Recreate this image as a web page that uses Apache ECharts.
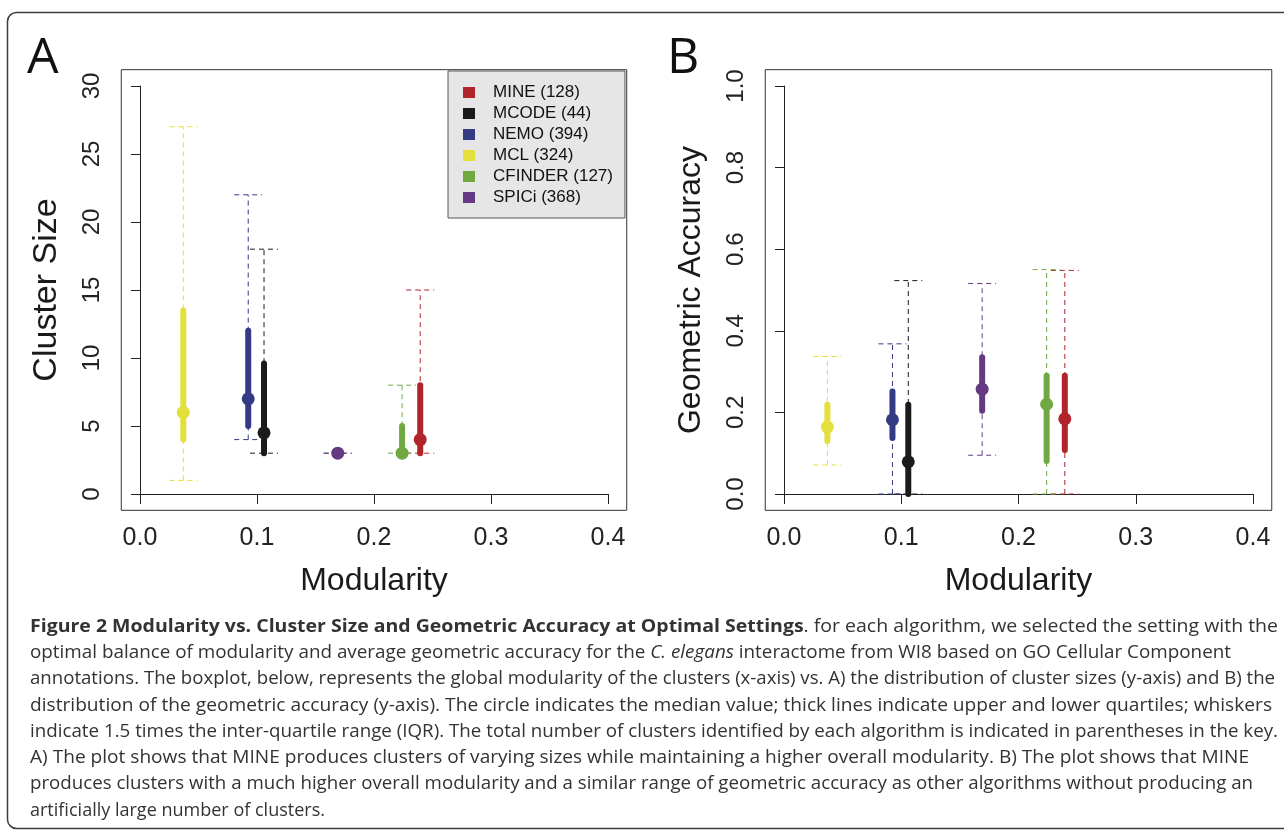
<!DOCTYPE html>
<html>
<head>
<meta charset="utf-8">
<script src="https://cdn.jsdelivr.net/npm/echarts@6/dist/echarts.min.js"></script>
<style>
  html, body { margin: 0; padding: 0; background: #fff; }
  #main { width: 1284px; height: 832px; }
</style>
</head>
<body>
<div id="main"></div>
<script>
// algorithm names as in the key, with cluster counts
const algorithms = ['MINE (128)', 'MCODE (44)', 'NEMO (394)', 'MCL (324)', 'CFINDER (127)', 'SPICi (368)'];
const colors = ['#b0242a', '#1b1b1b', '#343a84', '#e4df3b', '#70a941', '#663a83'];
// global modularity of each algorithm (x position)
const modularity = [0.2395, 0.106, 0.0925, 0.037, 0.224, 0.169];
// [low whisker, q1, median, q3, high whisker]
const clusterSize = [
  [3, 3, 4, 8, 15],
  [3, 3, 4.5, 9.6, 18],
  [4, 5, 7, 12, 22],
  [1, 4, 6, 13.5, 27],
  [3, 3, 3, 5, 8],
  [3, 3, 3, 3, 3]
];
const geoAccuracy = [
  [0, 0.108, 0.184, 0.29, 0.548],
  [0, 0, 0.079, 0.219, 0.523],
  [0, 0.137, 0.182, 0.251, 0.368],
  [0.071, 0.130, 0.164, 0.219, 0.337],
  [0, 0.081, 0.22, 0.29, 0.55],
  [0.095, 0.204, 0.257, 0.335, 0.516]
];
const xTickLabels = ['0.0', '0.1', '0.2', '0.3', '0.4'];
const yTickLabelsA = ['0', '5', '10', '15', '20', '25', '30'];
const yTickLabelsB = ['0.0', '0.2', '0.4', '0.6', '0.8', '1.0'];

// caption, one entry per printed line: [style, text] pieces
const captionLines = [
  [['b', 'Figure 2 Modularity vs. Cluster Size and Geometric Accuracy at Optimal Settings'], ['n', '. for each algorithm, we selected the setting with the']],
  [['n', 'optimal balance of modularity and average geometric accuracy for the '], ['i', 'C. elegans'], ['n', ' interactome from WI8 based on GO Cellular Component']],
  [['n', 'annotations. The boxplot, below, represents the global modularity of the clusters (x-axis) vs. A) the distribution of cluster sizes (y-axis) and B) the']],
  [['n', 'distribution of the geometric accuracy (y-axis). The circle indicates the median value; thick lines indicate upper and lower quartiles; whiskers']],
  [['n', 'indicate 1.5 times the inter-quartile range (IQR). The total number of clusters identified by each algorithm is indicated in parentheses in the key.']],
  [['n', 'A) The plot shows that MINE produces clusters of varying sizes while maintaining a higher overall modularity. B) The plot shows that MINE']],
  [['n', 'produces clusters with a much higher overall modularity and a similar range of geometric accuracy as other algorithms without producing an']],
  [['n', 'artificially large number of clusters.']]
];
// right end of each caption line in the reference
const captionEnds = [1278, 1231, 1275, 1272, 1278, 1249, 1253, 325];

const axisFont = '"Liberation Sans", Arial, sans-serif';
const capFont = '"Liberation Sans Narrow", "Open Sans", sans-serif';

const chart = echarts.init(document.getElementById('main'));

function renderBox(params, api) {
  const x = api.value(0);
  const p = [1, 2, 3, 4, 5].map(i => api.coord([x, api.value(i)]));
  const color = api.visual('color');
  const cx = p[0][0];
  const dash = { stroke: color, lineWidth: 1, lineDash: [5, 4] };
  return {
    type: 'group',
    children: [
      { type: 'line', shape: { x1: cx, y1: p[0][1], x2: cx, y2: p[4][1] }, style: dash },
      { type: 'line', shape: { x1: cx - 14, y1: p[0][1], x2: cx + 14, y2: p[0][1] }, style: dash },
      { type: 'line', shape: { x1: cx - 14, y1: p[4][1], x2: cx + 14, y2: p[4][1] }, style: dash },
      { type: 'line', shape: { x1: cx, y1: p[1][1], x2: cx, y2: p[3][1] },
        style: { stroke: color, lineWidth: 6, lineCap: 'round' } },
      { type: 'circle', shape: { cx: cx, cy: p[2][1], r: 6.5 }, style: { fill: color } }
    ]
  };
}

function makeXAxis(gridIndex) {
  return {
    gridIndex, type: 'value', min: 0, max: 0.4, interval: 0.1, offset: 16.3,
    axisLine: { show: true, lineStyle: { color: '#222' } },
    axisTick: { show: true, length: 10, lineStyle: { color: '#222' } },
    axisLabel: { formatter: (v, i) => xTickLabels[i], fontSize: 25, color: '#222', fontFamily: axisFont, margin: 15 },
    splitLine: { show: false },
    name: 'Modularity', nameLocation: 'middle', nameGap: 55,
    nameTextStyle: { fontSize: 32, color: '#1a1a1a', fontFamily: axisFont }
  };
}

function makeYAxis(gridIndex, max, interval, labels, name, nameSize) {
  return {
    gridIndex, type: 'value', min: 0, max, interval, offset: 18.7,
    axisLine: { show: true, lineStyle: { color: '#222' } },
    axisTick: { show: true, length: 9, lineStyle: { color: '#222' } },
    axisLabel: { formatter: (v, i) => labels[i], rotate: 90, fontSize: 24, color: '#222', fontFamily: axisFont, margin: 17 },
    splitLine: { show: false },
    name, nameLocation: 'middle', nameGap: 58,
    nameTextStyle: { fontSize: nameSize, color: '#1a1a1a', fontFamily: axisFont }
  };
}

const series = [];
[clusterSize, geoAccuracy].forEach((values, g) => {
  algorithms.forEach((name, i) => {
    series.push({
      type: 'custom', name, xAxisIndex: g, yAxisIndex: g,
      itemStyle: { color: colors[i] },
      renderItem: renderBox,
      encode: { x: 0, y: [1, 5] },
      data: [[modularity[i]].concat(values[i])],
      z: 10
    });
  });
});

chart.setOption({
  animation: false,
  grid: [
    { left: 140, top: 86, width: 468, height: 408 },
    { left: 784, top: 86, width: 469, height: 408 }
  ],
  xAxis: [makeXAxis(0), makeXAxis(1)],
  yAxis: [
    makeYAxis(0, 30, 5, yTickLabelsA, 'Cluster Size', 34),
    makeYAxis(1, 1, 0.2, yTickLabelsB, 'Geometric Accuracy', 32)
  ],
  legend: {
    data: algorithms, orient: 'vertical', left: 448, top: 71,
    selectedMode: false, icon: 'rect', itemWidth: 12, itemHeight: 11, itemGap: 4,
    backgroundColor: '#e6e6e6', borderColor: '#555', borderWidth: 1,
    padding: [13, 12, 12, 15],
    textStyle: { fontSize: 17, color: '#111', fontFamily: axisFont, lineHeight: 16, padding: [0, 0, 0, 13] }
  },
  series
});

// plot frames: R style, axis range extended 4% on each side
const frames = [0, 1].map(g => {
  const a = chart.convertToPixel({ gridIndex: g }, [-0.016, g === 0 ? -1.2 : -0.04]);
  const b = chart.convertToPixel({ gridIndex: g }, [0.416, g === 0 ? 31.2 : 1.04]);
  return {
    type: 'rect', silent: true, z: 1,
    shape: { x: a[0], y: b[1], width: b[0] - a[0], height: a[1] - b[1] },
    style: { fill: 'none', stroke: '#333', lineWidth: 1 }
  };
});

// caption: each line fitted to its length in the reference
const pieceFont = { n: 'normal 18px ', b: 'bold 18px ', i: 'italic 18px ' };
const ctx = document.createElement('canvas').getContext('2d');
const richStyle = {
  n: { fontSize: 18, fontFamily: capFont, color: '#333' },
  b: { fontSize: 18, fontFamily: capFont, color: '#333', fontWeight: 'bold' },
  i: { fontSize: 18, fontFamily: capFont, color: '#333', fontStyle: 'italic' }
};
const captionTexts = captionLines.map((pieces, k) => {
  let w = 0;
  pieces.forEach(([s, t]) => { ctx.font = pieceFont[s] + capFont; w += ctx.measureText(t).width; });
  return {
    type: 'text', x: 30, y: 626.5 + k * 26.3, scaleX: (captionEnds[k] - 30) / w, scaleY: 1,
    style: {
      text: pieces.map(([s, t]) => '{' + s + '|' + t + '}').join(''),
      rich: richStyle, fontSize: 18, fontFamily: capFont, fill: '#333', verticalAlign: 'middle'
    }
  };
});

chart.setOption({
  graphic: [
    { type: 'rect', silent: true, shape: { x: 7.5, y: 12.5, width: 1300, height: 816, r: 9 },
      style: { fill: 'none', stroke: '#3d3d3d', lineWidth: 1.5 } },
    frames[0], frames[1],
    { type: 'text', left: 27, top: 34, style: { text: 'A', fontSize: 50, fontFamily: capFont, fill: '#111' } },
    { type: 'text', left: 667, top: 34, style: { text: 'B', fontSize: 50, fontFamily: capFont, fill: '#111' } }
  ].concat(captionTexts)
});
</script>
</body>
</html>
